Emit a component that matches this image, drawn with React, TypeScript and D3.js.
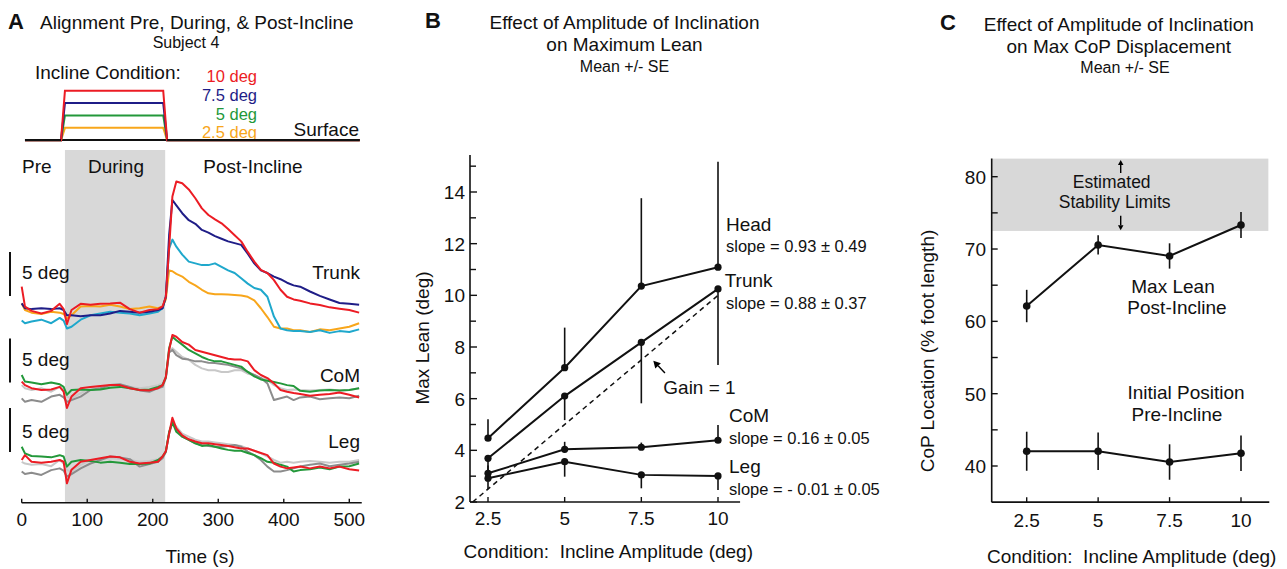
import React from 'react';
import * as d3 from 'd3';

const FONT = "'Liberation Sans', Arial, Helvetica, sans-serif";

// ---------------- Panel A data ----------------
const TIME = [0, 5, 15, 30, 45, 58, 64, 69, 76, 90, 105, 120, 135, 150, 165, 180, 195, 208, 215, 220, 225, 230, 236, 245, 255, 265, 275, 285, 295, 305, 315, 325, 335, 345, 355, 365, 375, 385, 395, 405, 415, 425, 440, 455, 470, 485, 500, 515];

const TRUNK_RED = [2.65, 0.38, -0.1, -0.4, -0.1, 0.7, 0.1, -1.6, 0, 0.7, 0.6, 0.7, 0.75, 0.83, 0.1, -0.3, 0, 0.1, 0.4, 1.5, 7.0, 12.9, 14.6, 14.4, 13.7, 12.7, 11.55, 10.8, 10.3, 9.85, 9.2, 8.5, 7.8, 6.6, 5.5, 4.55, 4.2, 3.4, 2.3, 1.5, 1.2, 1.06, 0.75, 0.57, 0.3, 0.15, 0, -0.3];
const TRUNK_NAVY = [0.75, 0.2, 0.1, 0.2, 0.1, 0.2, 0, -0.6, -0.6, -0.7, -0.6, -0.6, -0.4, -0.1, -0.2, -0.3, -0.2, 0, 0.2, 1.5, 8.5, 12.5, 11.9, 11.0, 10.2, 9.8, 9.1, 8.8, 8.4, 8.1, 7.8, 7.6, 7.4, 6.4, 5.3, 4.5, 4.2, 3.8, 3.5, 3.1, 2.8, 2.65, 2.1, 1.6, 1.2, 0.8, 0.7, 0.6];
const TRUNK_CYAN = [-1.2, -1.5, -1.3, -1.1, -1.5, -0.9, -1.2, -2.1, -1.9, -1.1, -0.6, -0.4, -0.2, -0.3, -0.4, -0.6, -0.4, -0.2, 0.2, 1.5, 7.0, 8.0, 7.2, 6.3, 5.5, 5.3, 5.1, 5.1, 5.3, 4.9, 4.5, 4.2, 3.6, 3.0, 2.5, 2.3, 1.5, -0.75, -2.1, -2.3, -2.4, -2.4, -2.5, -2.3, -2.6, -2.4, -2.5, -2.2];
const TRUNK_ORANGE = [0.75, 0, -0.3, -0.45, -0.2, -0.3, -0.45, -0.95, -0.6, 0.4, 0.45, 0.4, 0.6, 0.4, 0.1, 0.2, 0.4, 0.2, 0.4, 1.2, 4.5, 4.4, 4.1, 3.8, 3.2, 2.8, 2.3, 1.9, 1.8, 1.8, 1.75, 1.7, 1.65, 1.5, 1.1, 0.2, -0.8, -1.9, -2.1, -2.1, -2.3, -2.3, -2.5, -2.2, -2.3, -2.1, -1.9, -1.5];

const COM_RED = [0.5, 0.1, -0.25, -0.45, -0.4, -0.1, -0.65, -2.5, -1.2, -0.25, -0.1, 0, 0.1, 0.1, -0.25, -0.45, -0.5, -0.25, 0.1, 1.0, 4.1, 5.8, 5.6, 5.0, 4.7, 4.1, 3.9, 3.7, 3.5, 3.3, 3.1, 3.0, 3.0, 2.8, 1.8, 1.25, 0.9, 0.3, -0.45, -0.65, -0.8, -0.9, -1.1, -1.0, -0.9, -0.75, -1.0, -1.3];
const COM_GREEN = [1.25, 0.5, 0.4, 0.2, 0.4, 0.2, -0.1, -1.0, -0.45, -0.4, -0.45, -0.4, -0.2, -0.1, -0.25, -0.45, -0.4, -0.1, 0.1, 1.0, 4.3, 5.6, 5.2, 4.7, 4.1, 3.7, 3.3, 3.0, 2.8, 2.8, 2.6, 2.4, 2.2, 1.6, 1.1, 0.75, 0.6, 0.45, 0.3, 0.1, 0.0, -0.55, -0.65, -0.5, -0.45, -0.5, -0.45, -0.25];
const COM_LIGHT = [0.1, -0.25, -0.45, -0.25, -0.65, -0.1, -0.45, -1.2, -1.4, -0.8, -0.25, -0.1, 0, 0.1, -0.1, -0.25, -0.1, 0.1, 0.3, 0.9, 4.0, 4.3, 3.9, 3.3, 3.0, 2.4, 2.0, 1.8, 1.8, 1.6, 1.6, 1.8, 1.8, 1.4, 1.25, 0.9, 0.7, 0.1, -0.25, -0.45, -0.4, -0.45, -0.5, -0.45, -0.4, -0.5, -0.45, -0.25];
const COM_DARK = [-1.4, -1.8, -1.6, -1.8, -1.2, -1.0, -1.3, -1.8, -1.6, -1.2, -0.45, -0.25, 0.1, 0.2, -0.1, -0.5, -0.65, -0.25, -0.1, 0.9, 3.8, 4.1, 3.5, 3.1, 3.0, 2.8, 2.8, 2.65, 2.6, 2.5, 2.4, 2.2, 2.0, 1.6, 1.25, 0.9, 0.3, -1.6, -1.4, -1.2, -1.6, -1.3, -1.2, -1.5, -1.4, -1.3, -1.4, -1.1];

const LEG_RED = [0, 0.55, -0.2, -0.3, -0.2, 0, -0.2, -2.65, -1.1, -0.2, 0, 0.2, 0.4, 0.3, -0.2, -0.4, -0.3, -0.2, 0.4, 1.0, 3.0, 4.8, 3.6, 2.8, 2.35, 2.1, 1.9, 1.9, 1.8, 1.7, 1.6, 1.45, 1.3, 1.3, 1.05, 0.8, 0.55, -0.4, -0.75, -0.95, -0.85, -0.75, -0.95, -0.75, -0.95, -0.75, -1.05, -1.2];
const LEG_GREEN = [1.5, 0.75, 0.45, 0.4, 0.3, 0.55, 0.4, -0.75, -0.2, 0, -0.1, -0.3, -0.2, -0.3, -0.45, -0.45, -0.4, 0, 0.4, 1.0, 3.2, 4.3, 3.2, 2.65, 2.3, 1.9, 1.6, 1.7, 1.5, 1.3, 1.15, 1.05, 1.05, 0.8, 0.55, 0.2, -0.2, -0.3, -0.55, -0.75, -1.3, -1.15, -1.05, -0.85, -1.05, -0.75, -0.7, -0.4];
const LEG_LIGHT = [-0.2, -0.4, -0.55, -0.45, -0.7, 0, -0.4, -1.15, -1.3, -0.55, 0, 0.1, 0.2, 0.1, 0, -0.2, -0.1, 0.1, 0.4, 0.9, 3.0, 4.2, 3.8, 3.0, 2.65, 2.3, 2.1, 2.1, 2.0, 1.9, 1.8, 1.7, 1.6, 1.3, 1.05, 0.75, 0.4, 0, -0.3, -0.2, -0.3, -0.2, -0.1, -0.2, -0.3, -0.2, -0.2, 0];
const LEG_DARK = [-1.3, -1.6, -1.45, -1.7, -1.15, -0.95, -1.2, -1.9, -1.6, -0.95, -0.4, 0, 0.4, 0.3, 0.1, -0.75, -0.45, -0.2, 0.2, 0.9, 3.0, 4.3, 3.4, 2.65, 2.3, 1.9, 1.7, 1.6, 1.5, 1.5, 1.6, 1.7, 1.5, 0.95, 0.55, 0, -0.75, -1.3, -1.3, -1.15, -0.95, -0.75, -0.55, -0.4, -0.7, -0.55, -0.4, -0.2];

const INCLINE_LEVELS = [10, 7.5, 5, 2.5];
const INCLINE_LABELS = ['10 deg', '7.5 deg', '5 deg', '2.5 deg'];
const PROFILE_T = [5, 60, 66, 216, 222, 516];
const PROFILE_F = [0, 0, 1, 1, 0, 0];
const DURING = [66, 219];
const TIME_TICKS = [0, 100, 200, 300, 400, 500];

// ---------------- Panel B data ----------------
const CONDITIONS = [2.5, 5, 7.5, 10];
const HEAD_MEAN = [4.47, 7.2, 10.36, 11.09];
const HEAD_SE = [0.73, 1.55, 3.4, 4.08];
const TRUNK_MEAN = [3.69, 6.1, 8.18, 10.25];
const TRUNK_SE = [0.45, 0.93, 2.36, 2.95];
const COM_MEAN = [3.11, 4.04, 4.12, 4.39];
const COM_SE = [0.3, 0.29, 0.18, 0.59];
const LEG_MEAN = [2.92, 3.56, 3.05, 3.01];
const LEG_SE = [0.43, 0.58, 0.52, 0.55];
const GAIN_LINE = [2, 10];
const B_YTICKS = d3.range(2, 16);
const B_YLABELS = [2, 4, 6, 8, 10, 12, 14];

// ---------------- Panel C data ----------------
const MAXLEAN_MEAN = [62.12, 70.56, 69.04, 73.32];
const MAXLEAN_SE = [2.24, 1.33, 1.75, 1.8];
const INITIAL_MEAN = [42.04, 42.04, 40.55, 41.77];
const INITIAL_SE = [2.7, 2.6, 2.45, 2.45];
const STABILITY = [72.5, 82.5];
const C_YTICKS = d3.range(40, 81, 5);
const C_YLABELS = [40, 50, 60, 70, 80];

const RED = '#ec1c24';
const NAVY = '#1f1d87';
const CYAN = '#1fa8cc';
const ORANGE = '#f8a61b';
const GREEN = '#23983a';
const LIGHT = '#c8c8c8';
const DARK = '#8c8c8c';
const BAND = '#d8d8d8';
const INCLINE_COLORS = [RED, NAVY, GREEN, ORANGE];

function Arrow({ x1, y1, x2, y2, head = 5 }: { x1: number; y1: number; x2: number; y2: number; head?: number }) {
  const ang = Math.atan2(y2 - y1, x2 - x1);
  const w = head * 0.55;
  const bx = x2 - head * Math.cos(ang);
  const by = y2 - head * Math.sin(ang);
  const p1 = [bx + w * Math.sin(ang), by - w * Math.cos(ang)];
  const p2 = [bx - w * Math.sin(ang), by + w * Math.cos(ang)];
  return (
    <g>
      <line x1={x1} y1={y1} x2={bx} y2={by} stroke="#000" strokeWidth={1.4} />
      <polygon points={`${x2},${y2} ${p1[0]},${p1[1]} ${p2[0]},${p2[1]}`} fill="#000" />
    </g>
  );
}

export default function App() {
  // Panel A scales
  const xA = d3.scaleLinear().domain([0, 500]).range([21.7, 349.3]);
  const inclineY = d3.scaleLinear().domain([-0.5, 10]).range([142.7, 90.7]);
  const trunkY = d3.scaleLinear().domain([0, 5]).range([310, 266]);
  const comY = d3.scaleLinear().domain([0, 5]).range([386, 342]);
  const legY = d3.scaleLinear().domain([0, 5]).range([460, 416]);
  const axisA = 502.7;

  const groups = [
    { scale: trunkY, series: [[TRUNK_ORANGE, ORANGE], [TRUNK_CYAN, CYAN], [TRUNK_NAVY, NAVY], [TRUNK_RED, RED]], bar: [1.6, 6.6], name: 'Trunk', nameY: 279, barText: 279.3 },
    { scale: comY, series: [[COM_LIGHT, LIGHT], [COM_DARK, DARK], [COM_GREEN, GREEN], [COM_RED, RED]], bar: [0.4, 5.4], name: 'CoM', nameY: 382, barText: 365.7 },
    { scale: legY, series: [[LEG_LIGHT, LIGHT], [LEG_DARK, DARK], [LEG_GREEN, GREEN], [LEG_RED, RED]], bar: [0.9, 5.9], name: 'Leg', nameY: 448.3, barText: 438.3 },
  ] as const;

  // Panel B scales
  const xB = d3.scaleLinear().domain([2.5, 10]).range([488, 718]);
  const yB = d3.scaleLinear().domain([2, 14]).range([502, 192]);
  const lineB = d3.line<number>().x((_, i) => xB(CONDITIONS[i])).y((d) => yB(d));
  const bSeries = [
    { mean: HEAD_MEAN, se: HEAD_SE, dir: 1 },
    { mean: TRUNK_MEAN, se: TRUNK_SE, dir: -1 },
    { mean: COM_MEAN, se: COM_SE, dir: 1 },
    { mean: LEG_MEAN, se: LEG_SE, dir: -1 },
  ];

  // Panel C scales
  const xC = d3.scaleLinear().domain([2.5, 10]).range([1026.7, 1241]);
  const yC = d3.scaleLinear().domain([40, 80]).range([466, 176.7]);
  const lineC = d3.line<number>().x((_, i) => xC(CONDITIONS[i])).y((d) => yC(d));
  const cSeries = [
    { mean: MAXLEAN_MEAN, se: MAXLEAN_SE },
    { mean: INITIAL_MEAN, se: INITIAL_SE },
  ];

  const T = (props: any) => <text fontFamily={FONT} fill="#111" {...props} />;

  return (
    <svg width={1287} height={569} style={{ position: 'absolute', left: 0, top: 0, background: '#fff' }}>
      <rect x={0} y={0} width={1287} height={569} fill="#fff" />
      {/* ================= Panel A ================= */}
      <T x={8} y={28.5} fontSize={22} fontWeight="bold">A</T>
      <T x={40} y={28.5} fontSize={19}>Alignment Pre, During, &amp; Post-Incline</T>
      <T x={186} y={48.3} fontSize={16} textAnchor="middle">Subject 4</T>
      <T x={35} y={79} fontSize={19}>Incline Condition:</T>
      {INCLINE_LABELS.map((lab, i) => (
        <T key={lab} x={257} y={[81.7, 100.7, 120, 138.3][i]} fontSize={16.5} textAnchor="end" fill={INCLINE_COLORS[i]}>{lab}</T>
      ))}
      <T x={359} y={136} fontSize={19} textAnchor="end">Surface</T>
      {/* surface profile */}
      <line x1={xA(PROFILE_T[0])} x2={xA(PROFILE_T[PROFILE_T.length - 1])} y1={inclineY(0) - 0.3} y2={inclineY(0) - 0.3} stroke="#111" strokeWidth={2} />
      {[...INCLINE_LEVELS].reverse().map((lvl, j) => {
        const i = INCLINE_LEVELS.length - 1 - j;
        const pts = PROFILE_T.map((t, k) => [xA(t), inclineY(PROFILE_F[k] * lvl)] as [number, number]);
        return <path key={lvl} d={d3.line()(pts) || ''} fill="none" stroke={INCLINE_COLORS[i]} strokeWidth={2} />;
      })}
      <line x1={xA(PROFILE_T[0])} x2={xA(PROFILE_T[1])} y1={inclineY(0) - 0.3} y2={inclineY(0) - 0.3} stroke="#111" strokeWidth={2} />
      <line x1={xA(PROFILE_T[4])} x2={xA(PROFILE_T[5])} y1={inclineY(0) - 0.3} y2={inclineY(0) - 0.3} stroke="#111" strokeWidth={2} />

      {/* during band */}
      <rect x={xA(DURING[0])} y={150} width={xA(DURING[1]) - xA(DURING[0])} height={axisA - 150} fill={BAND} />
      <T x={22} y={173.3} fontSize={19}>Pre</T>
      <T x={116} y={173.3} fontSize={19} textAnchor="middle">During</T>
      <T x={253} y={173.3} fontSize={19} textAnchor="middle">Post-Incline</T>

      {groups.map((g) => (
        <g key={g.name}>
          {g.series.map(([vals, col], k) => {
            const line = d3.line<number>().x((_, i) => xA(TIME[i])).y((d) => g.scale(d));
            return <path key={k} d={line(vals as number[]) || ''} fill="none" stroke={col as string} strokeWidth={2} strokeLinejoin="round" />;
          })}
          <line x1={10} x2={10} y1={g.scale(g.bar[0])} y2={g.scale(g.bar[1])} stroke="#111" strokeWidth={2} />
          <T x={22} y={g.barText} fontSize={19}>5 deg</T>
          <T x={360} y={g.nameY} fontSize={19} textAnchor="end">{g.name}</T>
        </g>
      ))}

      {/* time axis */}
      <line x1={xA(0)} x2={xA(519)} y1={axisA} y2={axisA} stroke="#111" strokeWidth={1.6} />
      {TIME_TICKS.map((t) => (
        <g key={t}>
          <line x1={xA(t)} x2={xA(t)} y1={axisA} y2={axisA - 4} stroke="#111" strokeWidth={1.4} />
          <T x={xA(t)} y={526} fontSize={19} textAnchor="middle">{t}</T>
        </g>
      ))}
      <T x={200} y={563} fontSize={19} textAnchor="middle">Time (s)</T>

      {/* ================= Panel B ================= */}
      <T x={425} y={27.5} fontSize={22} fontWeight="bold">B</T>
      <T x={624.5} y={28.5} fontSize={19} textAnchor="middle">Effect of Amplitude of Inclination</T>
      <T x={624.5} y={50.7} fontSize={19} textAnchor="middle">on Maximum Lean</T>
      <T x={624.5} y={71.7} fontSize={16} textAnchor="middle">Mean +/- SE</T>

      <line x1={xB(1.913)} x2={xB(10.72)} y1={yB(2)} y2={yB(2)} stroke="#111" strokeWidth={1.6} />
      <line x1={xB(1.913)} x2={xB(1.913)} y1={yB(2)} y2={yB(15.43)} stroke="#111" strokeWidth={1.6} />
      {B_YTICKS.map((v) => (
        <line key={v} x1={xB(1.913)} x2={xB(1.913) + (v % 2 === 0 ? 7 : 6)} y1={yB(v)} y2={yB(v)} stroke="#111" strokeWidth={1.4} />
      ))}
      {B_YLABELS.map((v) => (
        <T key={v} x={465} y={yB(v) + 7} fontSize={19} textAnchor="end">{v}</T>
      ))}
      {CONDITIONS.map((c) => (
        <g key={c}>
          <line x1={xB(c)} x2={xB(c)} y1={yB(2)} y2={yB(2) - 5} stroke="#111" strokeWidth={1.4} />
          <T x={xB(c)} y={525} fontSize={19} textAnchor="middle">{c}</T>
        </g>
      ))}
      <T x={608.3} y={558.3} fontSize={19} textAnchor="middle" style={{ whiteSpace: 'pre' }}>{'Condition:  Incline Amplitude (deg)'}</T>
      <T transform="translate(429,338) rotate(-90)" fontSize={19} textAnchor="middle">Max Lean (deg)</T>

      <line x1={xB(GAIN_LINE[0])} y1={yB(GAIN_LINE[0])} x2={xB(GAIN_LINE[1])} y2={yB(GAIN_LINE[1])} stroke="#111" strokeWidth={1.5} strokeDasharray="5,4" />

      {bSeries.map((s, si) => (
        <g key={si}>
          {s.mean.map((m, i) => (
            <line key={i} x1={xB(CONDITIONS[i])} x2={xB(CONDITIONS[i])} y1={yB(m)} y2={yB(m + s.dir * s.se[i])} stroke="#111" strokeWidth={1.6} />
          ))}
          <path d={lineB(s.mean) || ''} fill="none" stroke="#111" strokeWidth={2} />
          {s.mean.map((m, i) => (
            <circle key={i} cx={xB(CONDITIONS[i])} cy={yB(m)} r={3.6} fill="#111" />
          ))}
        </g>
      ))}

      <T x={726} y={230.7} fontSize={19}>Head</T>
      <T x={726} y={251.7} fontSize={16.5}>slope = 0.93 ± 0.49</T>
      <T x={724.7} y={287.3} fontSize={19}>Trunk</T>
      <T x={726} y={309} fontSize={16.5}>slope = 0.88 ± 0.37</T>
      <T x={663.3} y={394} fontSize={19}>Gain = 1</T>
      <Arrow x1={xB(8.27)} y1={yB(6.99)} x2={xB(7.89)} y2={yB(7.47)} head={7} />
      <T x={729} y={421.7} fontSize={19}>CoM</T>
      <T x={729} y={444.3} fontSize={16.5}>slope = 0.16 ± 0.05</T>
      <T x={729} y={473.3} fontSize={19}>Leg</T>
      <T x={729} y={495} fontSize={16.5}>slope = - 0.01 ± 0.05</T>

      {/* ================= Panel C ================= */}
      <T x={940} y={30} fontSize={22} fontWeight="bold">C</T>
      <T x={1118.8} y={30.7} fontSize={19} textAnchor="middle">Effect of Amplitude of Inclination</T>
      <T x={1118.8} y={52.7} fontSize={19} textAnchor="middle">on Max CoP Displacement</T>
      <T x={1125} y={73.3} fontSize={16} textAnchor="middle">Mean +/- SE</T>

      <rect x={xC(1.275) + 0.5} y={yC(STABILITY[1])} width={xC(10.94) - xC(1.275)} height={yC(STABILITY[0]) - yC(STABILITY[1])} fill={BAND} />
      <line x1={xC(1.275)} x2={xC(10.99)} y1={yC(35)} y2={yC(35)} stroke="#111" strokeWidth={1.6} />
      <line x1={xC(1.275)} x2={xC(1.275)} y1={yC(35)} y2={yC(82.5)} stroke="#111" strokeWidth={1.6} />
      {C_YTICKS.map((v) => (
        <line key={v} x1={xC(1.275)} x2={xC(1.275) + 6} y1={yC(v)} y2={yC(v)} stroke="#111" strokeWidth={1.4} />
      ))}
      {C_YLABELS.map((v) => (
        <T key={v} x={986} y={yC(v) + 7} fontSize={19} textAnchor="end">{v}</T>
      ))}
      {CONDITIONS.map((c) => (
        <g key={c}>
          <line x1={xC(c)} x2={xC(c)} y1={yC(35)} y2={yC(35) - 5} stroke="#111" strokeWidth={1.4} />
          <T x={xC(c)} y={526.7} fontSize={19} textAnchor="middle">{c}</T>
        </g>
      ))}
      <T x={1131.7} y={563} fontSize={19} textAnchor="middle" style={{ whiteSpace: 'pre' }}>{'Condition:  Incline Amplitude (deg)'}</T>
      <T transform="translate(934,351) rotate(-90)" fontSize={19} textAnchor="middle">CoP Location (% foot length)</T>

      <T x={1111.7} y={188} fontSize={17.5} textAnchor="middle">Estimated</T>
      <T x={1114.7} y={207.5} fontSize={17.5} textAnchor="middle">Stability Limits</T>
      <Arrow x1={xC(5.79)} y1={yC(80.5)} x2={xC(5.79)} y2={yC(82.3)} head={5} />
      <Arrow x1={xC(5.79)} y1={yC(74.6)} x2={xC(5.79)} y2={yC(72.6)} head={5} />

      {cSeries.map((s, si) => (
        <g key={si}>
          {s.mean.map((m, i) => (
            <line key={i} x1={xC(CONDITIONS[i])} x2={xC(CONDITIONS[i])} y1={yC(m - s.se[i])} y2={yC(m + s.se[i])} stroke="#111" strokeWidth={1.6} />
          ))}
          <path d={lineC(s.mean) || ''} fill="none" stroke="#111" strokeWidth={2} />
          {s.mean.map((m, i) => (
            <circle key={i} cx={xC(CONDITIONS[i])} cy={yC(m)} r={3.8} fill="#111" />
          ))}
        </g>
      ))}
      <T x={1173} y={292.7} fontSize={19} textAnchor="middle">Max Lean</T>
      <T x={1177} y={314.3} fontSize={19} textAnchor="middle">Post-Incline</T>
      <T x={1186} y={399.3} fontSize={19} textAnchor="middle">Initial Position</T>
      <T x={1177} y={421} fontSize={19} textAnchor="middle">Pre-Incline</T>
    </svg>
  );
}
